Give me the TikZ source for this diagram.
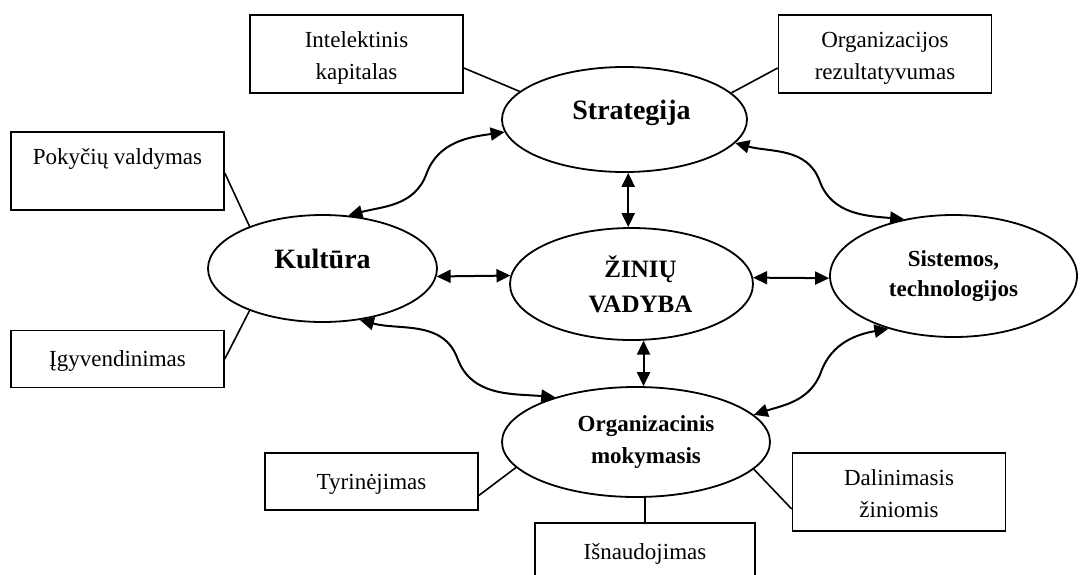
\documentclass[tikz,border=0pt]{standalone}
\usepackage{fontspec}
\setmainfont{Liberation Serif}
\usetikzlibrary{shapes.geometric,arrows.meta,calc}
\begin{document}
\begin{tikzpicture}[x=0.5pt,y=0.5pt]
\tikzset{
    zvBox/.style={rectangle,draw=black,line width=0.8pt,minimum width=106.5pt,minimum height=39pt,inner sep=0pt,align=center,text height=25pt,text depth=0pt,font=\fontsize{11.5}{16}\selectfont},
    zvBoxLow/.style={zvBox,minimum height=28.5pt,text height=10pt,text depth=2.5pt},
    zvOval/.style={ellipse,draw=black,line width=0.9pt,inner sep=0pt,align=center},
    zvLink/.style={line width=0.8pt},
    zvArrow/.style={line width=1pt,{Triangle[length=7pt,width=6.5pt]}-{Triangle[length=7pt,width=6.5pt]}},
}
\useasboundingbox (0,0) rectangle (1083,-574);
\clip (0,0) rectangle (1083,-574);

% ovals
\node[zvOval,minimum width=122.5pt,minimum height=52.5pt,text height=8pt,text depth=8pt,font=\bfseries\fontsize{14}{17}\selectfont] (str) at (624.5,-119.5) {\hspace*{7pt}Strategija};
\node[zvOval,minimum width=114.5pt,minimum height=53.5pt,text height=8pt,text depth=8pt,font=\bfseries\fontsize{14}{17}\selectfont] (kul) at (322.5,-268.5) {Kultūra};
\node[zvOval,minimum width=121.5pt,minimum height=56pt,font=\bfseries\fontsize{12.5}{17.5}\selectfont] (zin) at (631.5,-284) {\hspace*{9pt}ŽINIŲ\\\hspace*{9pt}VADYBA};
\node[zvOval,minimum width=123.5pt,minimum height=61pt,font=\bfseries\fontsize{11.5}{15}\selectfont] (sis) at (953.5,-276) {Sistemos,\\technologijos};
\node[zvOval,minimum width=134pt,minimum height=55pt,font=\bfseries\fontsize{11.5}{16}\selectfont] (org) at (636,-442) {\hspace*{10pt}Organizacinis\\\hspace*{10pt}mokymasis};

% boxes
\node[zvBox] (bInt) at (356.5,-54) {Intelektinis\\kapitalas};
\node[zvBox] (bRez) at (885,-54) {Organizacijos\\rezultatyvumas};
\node[zvBox] (bPok) at (117.5,-171) {Pokyčių valdymas\\\mbox{}};
\node[zvBoxLow] (bIgy) at (117.5,-359) {Įgyvendinimas};
\node[zvBoxLow] (bTyr) at (371.5,-481.5) {Tyrinėjimas};
\node[zvBoxLow,minimum width=110pt] (bIsn) at (645,-551.5) {Išnaudojimas};
\node[zvBox] (bDal) at (899,-492) {Dalinimasis\\žiniomis};

% plain links
\draw[zvLink] ($(bInt.east)+(0,-14)$) -- (str.165.8);
\draw[zvLink] ($(bRez.west)+(0,-14)$) -- (str.14.3);
\draw[zvLink] ($(bPok.east)+(0,-2)$) -- (kul.150.2);
\draw[zvLink] (bIgy.east) -- (kul.210.7);
\draw[zvLink] ($(bTyr.east)+(0,-14)$) -- (org.192.9);
\draw[zvLink] (bIsn.north) -- (bIsn.north |- org.south);
\draw[zvLink] ($(bDal.west)+(0,-17)$) -- (org.347.2);

% straight arrows
\draw[zvArrow] (str.274.4) -- (str.274.4 |- zin.north);
\draw[zvArrow] (zin.282) -- (zin.282 |- org.north);
\draw[zvArrow] (kul.-4) -- (zin.176);
\draw[zvArrow] (zin.3) -- (sis.181);

% curved arrows
\draw[zvArrow] (kul.64.5) to[out=15,in=-110] ($(kul.64.5)!.5!(str.186.3)$) to[out=70,in=188] (str.186.3);
\draw[zvArrow] (str.-12.2) to[out=-15,in=110] ($(str.-12.2)!.5!(sis.131)$) to[out=-70,in=175] (sis.131);
\draw[zvArrow] (kul.306) to[out=-15,in=110] ($(kul.306)!.5!(org.151.5)$) to[out=-70,in=175] (org.151.5);
\draw[zvArrow] (org.13.5) to[out=18,in=-110] ($(org.13.5)!.5!(sis.219.3)$) to[out=70,in=190] (sis.219.3);
\end{tikzpicture}
\end{document}
